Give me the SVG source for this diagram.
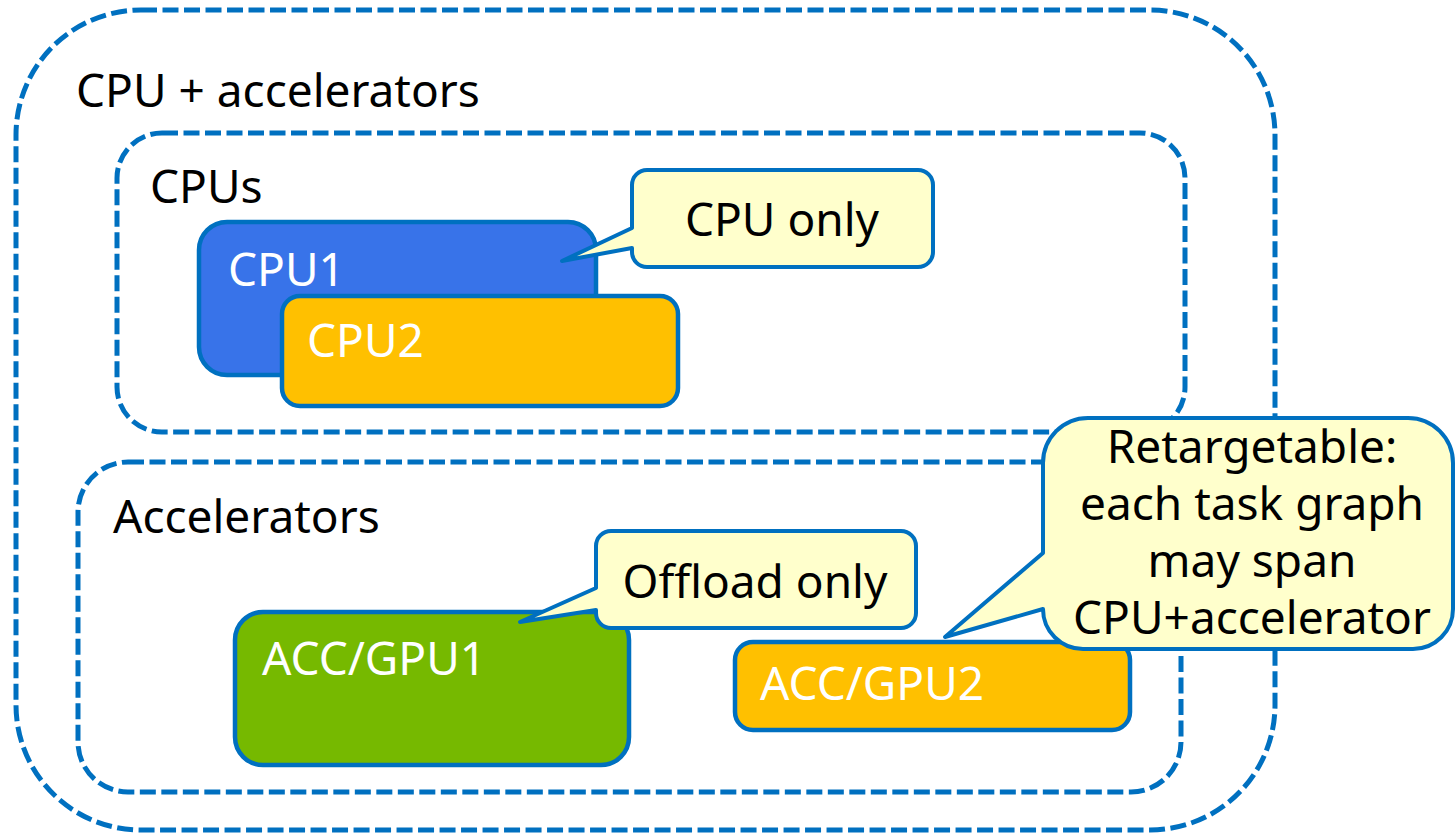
<svg xmlns="http://www.w3.org/2000/svg" width="1455" height="833" viewBox="0 0 1455 833">
<style>
.grp{fill:none;stroke:#0070C0;stroke-width:5;stroke-dasharray:16 5.5}
.node{stroke:#0070C0;stroke-width:4.5}
.call{fill:#FFFFCC;stroke:#0070C0;stroke-width:4;stroke-linejoin:round}
text{font-family:"Noto Sans","DejaVu Sans",sans-serif;font-size:46px}
.lbl{fill:#000}
.wht{fill:#fff}
.mid{text-anchor:middle}
</style>
<rect width="1455" height="833" fill="#fff"/>
<g id="cpu-accelerators">
<rect class="grp" x="16" y="10" width="1259" height="820" rx="125" ry="125"/>
<text class="lbl" x="76" y="107" font-size="47">CPU + accelerators</text>
</g>
<g id="cpus">
<rect class="grp" x="117" y="133" width="1068" height="299" rx="45" ry="45"/>
<text class="lbl" x="150" y="203">CPUs</text>
</g>
<g id="accelerators">
<rect class="grp" x="78" y="462" width="1103" height="330" rx="50" ry="50"/>
<text class="lbl" x="113" y="533">Accelerators</text>
</g>
<g id="cpu1">
<rect class="node" x="199" y="222" width="397" height="153" rx="28" fill="#3873E9"/>
<text class="wht" x="228" y="286">CPU1</text>
</g>
<g id="cpu2">
<rect class="node" x="282" y="296" width="396" height="110" rx="18" fill="#FFC000"/>
<text class="wht" x="307" y="357">CPU2</text>
</g>
<g id="accgpu1">
<rect class="node" x="235" y="612" width="394" height="153" rx="28" fill="#76B900"/>
<text class="wht" x="262" y="675">ACC/GPU1</text>
</g>
<g id="accgpu2">
<rect class="node" x="735" y="642" width="395" height="88" rx="18" fill="#FFC000"/>
<text class="wht" x="760" y="700">ACC/GPU2</text>
</g>
<g id="connectors">
<g id="callout-cpu-only">
<path class="call" d="M647 170 H918 A15 15 0 0 1 933 185 V252 A15 15 0 0 1 918 267 H647 A15 15 0 0 1 632 252 V248 L562 261 L632 228 V185 A15 15 0 0 1 647 170 Z"/>
<text class="lbl mid" x="782" y="236">CPU only</text>
</g>
<g id="callout-offload-only">
<path class="call" d="M611 531 H901 A15 15 0 0 1 916 546 V613 A15 15 0 0 1 901 628 H611 A15 15 0 0 1 596 613 V610 L520 622 L596 588 V546 A15 15 0 0 1 611 531 Z"/>
<text class="lbl mid" x="755" y="598">Offload only</text>
</g>
<g id="callout-retargetable">
<path class="call" d="M1088 418 H1408 A45 45 0 0 1 1453 463 V609 A40 40 0 0 1 1413 649 H1083 A40 40 0 0 1 1043 609 L945 637 L1043 553 V463 A45 45 0 0 1 1088 418 Z"/>
<text class="lbl mid" x="1252" y="463">Retargetable:</text>
<text class="lbl mid" x="1252" y="520">each task graph</text>
<text class="lbl mid" x="1252" y="577">may span</text>
<text class="lbl mid" x="1252" y="634">CPU+accelerator</text>
</g>
</g>
</svg>
